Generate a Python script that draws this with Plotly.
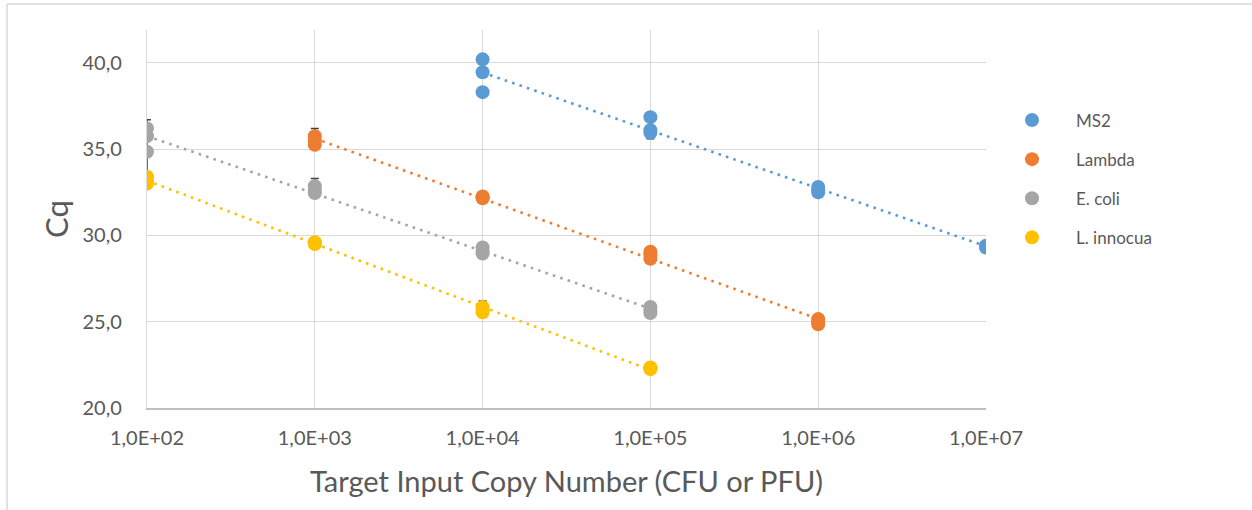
import numpy as np
import plotly.graph_objects as go

# ---------------- data ----------------
series_names = ["MS2", "Lambda", "E. coli", "L. innocua"]
series_colors = ["#5B9BD5", "#ED7D31", "#A5A5A5", "#FFC000"]

ms2_x = [1e4, 1e4, 1e4, 1e5, 1e5, 1e5, 1e6, 1e6, 1e6, 1e7, 1e7, 1e7]
ms2_y = [40.2, 39.45, 38.3, 36.85, 36.1, 35.95, 32.8, 32.65, 32.5, 29.4, 29.35, 29.3]

lambda_x = [1e3, 1e3, 1e3, 1e4, 1e4, 1e4, 1e5, 1e5, 1e5, 1e6, 1e6, 1e6]
lambda_y = [35.75, 35.5, 35.25, 32.25, 32.2, 32.15, 29.05, 28.85, 28.65, 25.15, 25.0, 24.85]

ecoli_x = [1e2, 1e2, 1e2, 1e3, 1e3, 1e3, 1e4, 1e4, 1e4, 1e5, 1e5, 1e5]
ecoli_y = [36.2, 35.75, 34.85, 32.85, 32.6, 32.45, 29.3, 29.1, 28.95, 25.85, 25.65, 25.5]

linn_x = [1e2, 1e2, 1e2, 1e3, 1e3, 1e3, 1e4, 1e4, 1e4, 1e5, 1e5, 1e5]
linn_y = [33.4, 33.2, 33.0, 29.6, 29.55, 29.5, 25.85, 25.7, 25.55, 22.35, 22.3, 22.25]

# error bars (x, centre, upper end, lower end)
err_x = [1e2, 1e3, 1e3, 1e4, 1e5]
err_mid = [35.6, 35.5, 32.6, 25.7, 36.3]
err_hi = [36.7, 36.2, 33.3, 26.2, 36.9]
err_lo = [33.4, 35.0, 32.2, 25.4, 35.6]

x_tickvals = [1e2, 1e3, 1e4, 1e5, 1e6, 1e7]
x_ticktext = ["1,0E+02", "1,0E+03", "1,0E+04", "1,0E+05", "1,0E+06", "1,0E+07"]
y_tickvals = [20, 25, 30, 35, 40]
y_ticktext = ["20,0", "25,0", "30,0", "35,0", "40,0"]

# ---------------- figure ----------------
W, H = 1252, 510
L, R, T, B = 147, 986, 30, 408

FONT = "Lato"
TXT = "#595959"

fig = go.Figure()

xs = [ms2_x, lambda_x, ecoli_x, linn_x]
ys = [ms2_y, lambda_y, ecoli_y, linn_y]

# trendlines (logarithmic fit), drawn beneath markers
for name, col, x, y in zip(series_names, series_colors, xs, ys):
    lx = np.log10(np.array(x))
    a, b = np.polyfit(lx, np.array(y), 1)
    ex = np.array([lx.min(), lx.max()])
    fig.add_trace(go.Scatter(
        x=10 ** ex, y=a * ex + b, mode="lines",
        line=dict(color=col, width=2.6, dash="2.6px,5.2px"),
        showlegend=False, hoverinfo="skip"))

# error bars
fig.add_trace(go.Scatter(
    x=err_x, y=err_mid, mode="markers",
    marker=dict(size=1, color="rgba(0,0,0,0)"),
    error_y=dict(type="data", symmetric=False,
                 array=[h - m for h, m in zip(err_hi, err_mid)],
                 arrayminus=[m - l for m, l in zip(err_mid, err_lo)],
                 color="#404040", thickness=1.5, width=4),
    showlegend=False, hoverinfo="skip"))

# markers
for i, (name, col, x, y) in enumerate(zip(series_names, series_colors, xs, ys)):
    fig.add_trace(go.Scatter(
        x=x, y=y, mode="markers", name=name,
        marker=dict(color=col, size=14, line=dict(width=0)),
        legendgroup=f"g{i}"))

def px_x(p):
    return (p - L) / (R - L)

def px_y(p):
    return (B - p) / (B - T)

shapes = [
    dict(type="line", xref="paper", yref="paper",
         x0=px_x(7), x1=px_x(1252), y0=px_y(4), y1=px_y(4),
         line=dict(color="#d9d9d9", width=1.5)),
    dict(type="line", xref="paper", yref="paper",
         x0=px_x(7), x1=px_x(7), y0=px_y(4), y1=px_y(510),
         line=dict(color="#d9d9d9", width=1.5)),
]

fig.update_layout(
    width=W, height=H,
    margin=dict(l=L, r=W - R, t=T, b=H - B, pad=0),
    paper_bgcolor="white", plot_bgcolor="white",
    font=dict(family=FONT, color=TXT, size=20),
    shapes=shapes,
    showlegend=True,
    legend=dict(x=px_x(988), y=px_y(179), xanchor="left", yanchor="middle",
                font=dict(family=FONT, size=17, color=TXT),
                tracegroupgap=14, itemwidth=78, bgcolor="rgba(0,0,0,0)"),
    xaxis=dict(type="log", range=[2, 7], tickvals=x_tickvals, ticktext=x_ticktext,
               showgrid=True, gridcolor="#d9d9d9", gridwidth=1.3,
               showline=True, linecolor="#bfbfbf", linewidth=2,
               ticks="", ticklabelstandoff=11, zeroline=False,
               tickfont=dict(family=FONT, size=20, color=TXT),
               title=dict(text="Target Input Copy Number (CFU or PFU)",
                          font=dict(family=FONT, size=29, color=TXT), standoff=24)),
    yaxis=dict(range=[20, 41.9], tickvals=y_tickvals, ticktext=y_ticktext,
               showgrid=True, gridcolor="#d9d9d9", gridwidth=1.3,
               showline=True, linecolor="#d9d9d9", linewidth=1.3,
               ticks="", ticklabelstandoff=20, zeroline=False,
               tickfont=dict(family=FONT, size=20, color=TXT),
               title=dict(text="Cq", font=dict(family=FONT, size=31, color=TXT),
                          standoff=4)),
)

fig.write_html("out.html", config={"displayModeBar": False},
               post_script="document.body.style.margin='0';document.body.style.overflow='hidden';")
